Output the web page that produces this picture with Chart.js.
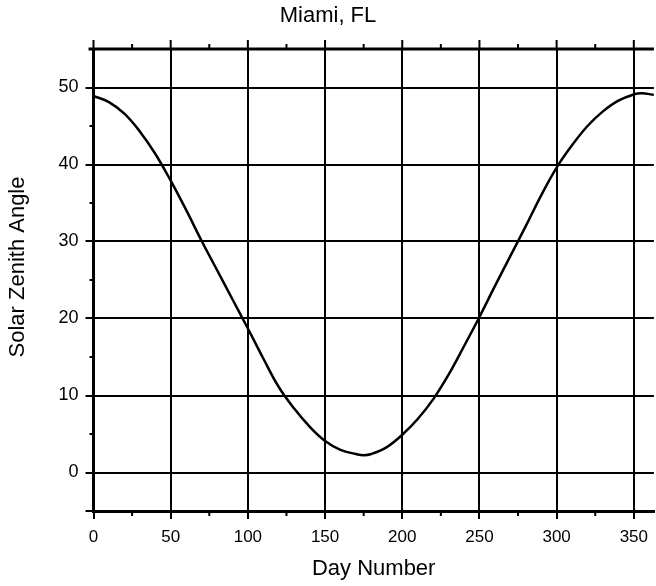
<!DOCTYPE html>
<html>
<head>
<meta charset="utf-8">
<script src="https://cdn.jsdelivr.net/npm/chart.js@4.4.1/dist/chart.umd.min.js"></script>
<style>
html, body { margin: 0; padding: 0; background: #fff; }
#wrap { width: 656px; height: 586px; }
</style>
</head>
<body>
<div id="wrap"><canvas id="zenithChart"></canvas></div>
<script>
// values
var dayNumbers = [0, 10, 20, 30, 40, 50, 60, 70, 80, 90, 100, 110, 120, 130, 140, 150, 160, 170, 175, 180,
    190, 200, 210, 220, 230, 240, 250, 260, 270, 280, 290, 300, 310, 320, 330, 340, 350, 355, 363];
var zenithAngles = [48.9, 48.1, 46.6, 44.3, 41.4, 37.9, 34.1, 30.1, 26.3, 22.5, 18.7, 14.8, 11.1, 8.3, 5.95, 4.1, 2.95, 2.4, 2.25, 2.4,
    3.3, 4.9, 6.95, 9.5, 12.7, 16.4, 20.2, 24.2, 28.1, 32.0, 36.0, 39.6, 42.5, 45.0, 46.9, 48.3, 49.1, 49.25, 49.05];
var xTickLabels = [0, 50, 100, 150, 200, 250, 300, 350];
var yTickLabels = [0, 10, 20, 30, 40, 50];

var fontFamily = '"Liberation Sans", Arial, Helvetica, sans-serif';

document.addEventListener('DOMContentLoaded', function () {
    var ctx = document.getElementById('zenithChart').getContext('2d');

    var points = dayNumbers.map(function (d, i) {
        return { x: d, y: zenithAngles[i] };
    });

    function isMajorX(v) { return xTickLabels.indexOf(v) >= 0; }
    function isMajorY(v) { return yTickLabels.indexOf(v) >= 0 || v === -5; }

    // top frame line, minor ticks and the y axis title
    var frameTicks = {
        id: 'frameTicks',
        afterDraw: function (chart) {
            var c = chart.ctx;
            var area = chart.chartArea;
            var xs = chart.scales.x;
            var ys = chart.scales.y;
            c.save();
            c.strokeStyle = '#000';
            c.lineWidth = 3;
            c.beginPath();
            c.moveTo(ys.right - 5, area.top);
            c.lineTo(area.right, area.top);
            c.stroke();

            c.lineWidth = 2;
            c.beginPath();
            xs.ticks.forEach(function (t) {
                var px = xs.getPixelForValue(t.value);
                var len = isMajorX(t.value) ? 9 : 5;
                c.moveTo(px, area.top);
                c.lineTo(px, area.top - len);
                if (!isMajorX(t.value)) {
                    c.moveTo(px, area.bottom);
                    c.lineTo(px, area.bottom + 5);
                }
            });
            ys.ticks.forEach(function (t) {
                if (!isMajorY(t.value) && t.value !== 55) {
                    var py = ys.getPixelForValue(t.value);
                    c.moveTo(area.left, py);
                    c.lineTo(area.left - 4, py);
                }
            });
            c.stroke();

            c.fillStyle = '#000';
            c.font = '22px ' + fontFamily;
            c.textAlign = 'center';
            c.textBaseline = 'middle';
            c.translate(18, 267);
            c.rotate(-Math.PI / 2);
            c.fillText('Solar Zenith Angle', 0, 0);
            c.restore();
        }
    };

    new Chart(ctx, {
        type: 'line',
        data: {
            datasets: [{
                label: 'Solar Zenith Angle',
                data: points,
                borderColor: '#000',
                borderWidth: 2.5,
                pointRadius: 0,
                fill: false,
                tension: 0.4
            }]
        },
        options: {
            responsive: true,
            maintainAspectRatio: false,
            animation: false,
            layout: { padding: 0 },
            plugins: {
                legend: { display: false },
                tooltip: { enabled: false },
                title: {
                    display: true,
                    text: 'Miami, FL',
                    color: '#000',
                    font: { family: fontFamily, size: 22, weight: 'normal' },
                    padding: { top: 2.5, bottom: 20.1 }
                }
            },
            scales: {
                x: {
                    type: 'linear',
                    min: 0,
                    max: 363,
                    afterFit: function (scale) { scale.height = 75; },
                    border: { display: true, color: '#000', width: 3 },
                    grid: {
                        drawTicks: true,
                        tickLength: 8,
                        lineWidth: 2,
                        tickWidth: 2,
                        color: function (c) {
                            return (c.tick && isMajorX(c.tick.value) && c.tick.value !== 0) ? '#000' : 'rgba(0,0,0,0)';
                        },
                        tickColor: function (c) {
                            return (c.tick && isMajorX(c.tick.value)) ? '#000' : 'rgba(0,0,0,0)';
                        }
                    },
                    ticks: {
                        stepSize: 25,
                        includeBounds: false,
                        autoSkip: false,
                        maxRotation: 0,
                        color: '#000',
                        padding: 8,
                        font: { family: fontFamily, size: 17 },
                        callback: function (v) { return isMajorX(v) ? String(v) : ''; }
                    },
                    title: {
                        display: true,
                        text: 'Day Number',
                        color: '#000',
                        font: { family: fontFamily, size: 22 },
                        padding: { top: 0, bottom: 4 }
                    }
                },
                y: {
                    type: 'linear',
                    min: -5,
                    max: 55,
                    afterFit: function (scale) { scale.width = 93.5; },
                    border: { display: true, color: '#000', width: 3 },
                    grid: {
                        drawTicks: true,
                        tickLength: 8,
                        lineWidth: 2,
                        tickWidth: 2,
                        color: function (c) {
                            return (c.tick && yTickLabels.indexOf(c.tick.value) >= 0) ? '#000' : 'rgba(0,0,0,0)';
                        },
                        tickColor: function (c) {
                            return (c.tick && isMajorY(c.tick.value)) ? '#000' : 'rgba(0,0,0,0)';
                        }
                    },
                    ticks: {
                        stepSize: 5,
                        autoSkip: false,
                        color: '#000',
                        padding: 7,
                        font: { family: fontFamily, size: 18 },
                        callback: function (v) { return yTickLabels.indexOf(v) >= 0 ? String(v) : ''; }
                    }
                }
            }
        },
        plugins: [frameTicks]
    });
});
</script>
</body>
</html>
